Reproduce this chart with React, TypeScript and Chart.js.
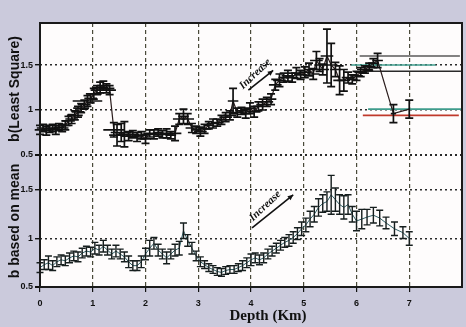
import React, { useEffect, useRef } from 'react';
import { Chart, registerables } from 'chart.js';

Chart.register(...registerables);

// ---- tick values ----
const xTickValues = [0, 1, 2, 3, 4, 5, 6, 7];
const yTickValues = [0.5, 1, 1.5];

// ---- top panel: b (Least Square) ----
const lsDepth = [0.00,0.06,0.12,0.18,0.24,0.30,0.36,0.42,0.48,0.54,0.60,0.66,0.72,0.78,0.84,0.90,0.96,1.02,1.08,1.14,1.20,1.26,1.32,1.40,1.46,1.54,1.60,1.68,1.76,1.84,1.92,2.00,2.08,2.16,2.24,2.32,2.40,2.48,2.56,2.64,2.72,2.80,2.88,2.96,3.04,3.12,3.20,3.28,3.36,3.44,3.52,3.60,3.66,3.74,3.82,3.90,3.98,4.06,4.14,4.22,4.30,4.38,4.46,4.54,4.62,4.70,4.78,4.86,4.94,5.02,5.10,5.18,5.24,5.30,5.36,5.44,5.52,5.60,5.68,5.76,5.84,5.92,6.00,6.08,6.16,6.24,6.32,6.40,6.70,7.00];
const lsB = [0.78,0.80,0.77,0.79,0.80,0.78,0.81,0.80,0.83,0.88,0.90,0.94,0.98,1.02,1.06,1.10,1.13,1.18,1.22,1.25,1.27,1.24,1.22,0.78,0.72,0.75,0.73,0.71,0.73,0.70,0.72,0.68,0.74,0.73,0.75,0.73,0.74,0.72,0.74,0.90,0.93,0.90,0.80,0.78,0.76,0.79,0.83,0.85,0.86,0.89,0.92,0.94,1.10,0.97,0.99,0.96,1.02,0.98,1.04,1.06,1.09,1.12,1.28,1.33,1.36,1.38,1.36,1.41,1.39,1.42,1.45,1.40,1.55,1.50,1.45,1.60,1.50,1.45,1.33,1.33,1.36,1.34,1.38,1.42,1.45,1.48,1.52,1.55,0.96,1.01];
const lsErrB = [0.05,0.04,0.05,0.04,0.04,0.05,0.04,0.04,0.05,0.05,0.05,0.05,0.06,0.05,0.05,0.06,0.05,0.06,0.05,0.06,0.05,0.05,0.05,0.08,0.12,0.10,0.14,0.05,0.04,0.05,0.04,0.05,0.04,0.05,0.04,0.04,0.05,0.04,0.08,0.06,0.08,0.06,0.05,0.04,0.05,0.05,0.04,0.05,0.04,0.05,0.05,0.05,0.14,0.05,0.04,0.05,0.06,0.06,0.05,0.06,0.05,0.06,0.06,0.07,0.05,0.06,0.05,0.06,0.05,0.06,0.07,0.06,0.10,0.07,0.06,0.30,0.24,0.08,0.16,0.12,0.06,0.05,0.05,0.05,0.04,0.04,0.05,0.08,0.10,0.10];
const lsErrDepth = [0.10,0.12,0.10,0.12,0.10,0.12,0.10,0.12,0.10,0.12,0.12,0.15,0.12,0.15,0.12,0.28,0.12,0.15,0.12,0.15,0.12,0.15,0.12,0.20,0.15,0.20,0.12,0.15,0.12,0.12,0.12,0.10,0.12,0.12,0.10,0.12,0.12,0.10,0.12,0.12,0.10,0.12,0.12,0.10,0.12,0.12,0.10,0.12,0.12,0.10,0.12,0.12,0.10,0.12,0.12,0.10,0.12,0.12,0.10,0.12,0.12,0.10,0.12,0.12,0.10,0.12,0.12,0.10,0.12,0.12,0.10,0.12,0.12,0.10,0.12,0.12,0.12,0.10,0.12,0.12,0.12,0.10,0.12,0.12,0.15,0.12,0.10,0.10,0.05,0.00];

// long horizontal intervals (top-right of upper panel)
const intervalB = [1.60, 1.50, 1.43, 1.01, 0.94];
const intervalFrom = [6.06, 5.90, 6.10, 6.22, 6.12];
const intervalTo = [7.96, 7.50, 7.98, 8.00, 7.94];

// ---- bottom panel: b based on mean ----
const meanDepth = [0.00,0.08,0.16,0.24,0.32,0.40,0.48,0.56,0.64,0.72,0.80,0.88,0.96,1.04,1.12,1.20,1.28,1.36,1.44,1.52,1.60,1.68,1.76,1.84,1.92,2.00,2.08,2.16,2.24,2.32,2.40,2.48,2.56,2.64,2.72,2.80,2.88,2.96,3.04,3.12,3.20,3.28,3.36,3.44,3.52,3.60,3.68,3.76,3.84,3.92,4.00,4.08,4.16,4.24,4.32,4.40,4.48,4.56,4.64,4.72,4.80,4.88,4.96,5.04,5.12,5.20,5.28,5.36,5.44,5.52,5.60,5.68,5.76,5.84,5.92,6.00,6.10,6.20,6.32,6.44,6.56,6.72,6.88,7.00];
const meanB = [0.70,0.73,0.75,0.72,0.76,0.78,0.77,0.80,0.82,0.81,0.85,0.87,0.86,0.90,0.88,0.92,0.88,0.84,0.87,0.84,0.81,0.76,0.72,0.72,0.76,0.84,0.90,0.95,0.88,0.84,0.80,0.84,0.88,0.90,1.08,0.98,0.90,0.82,0.76,0.73,0.70,0.68,0.66,0.65,0.67,0.68,0.68,0.70,0.72,0.75,0.78,0.80,0.78,0.80,0.84,0.87,0.90,0.93,0.96,0.98,1.01,1.05,1.10,1.14,1.20,1.25,1.32,1.36,1.38,1.45,1.40,1.35,1.32,1.35,1.25,1.18,1.20,1.22,1.24,1.21,1.16,1.10,1.06,1.00];
const meanErrB = [0.05,0.05,0.07,0.05,0.05,0.05,0.05,0.05,0.05,0.05,0.05,0.05,0.05,0.06,0.05,0.06,0.05,0.05,0.06,0.05,0.05,0.06,0.05,0.05,0.06,0.06,0.08,0.06,0.06,0.05,0.06,0.05,0.06,0.07,0.08,0.06,0.06,0.05,0.05,0.04,0.04,0.04,0.04,0.04,0.04,0.04,0.04,0.04,0.05,0.05,0.06,0.05,0.05,0.05,0.05,0.05,0.05,0.05,0.05,0.06,0.06,0.06,0.07,0.07,0.08,0.08,0.09,0.09,0.10,0.20,0.12,0.10,0.12,0.10,0.08,0.10,0.10,0.08,0.08,0.08,0.06,0.07,0.06,0.07];

// ---- annotations ("Increase" arrows), in data units ----
const noteText = ['Increase', 'Increase'];
const noteAxis = ['yLS', 'yMean'];
const noteX = [4.08, 4.27];
const noteY = [1.40, 1.335];
const arrowX0 = [3.95, 4.02];
const arrowY0 = [1.22, 1.11];
const arrowX1 = [4.42, 4.80];
const arrowY1 = [1.44, 1.45];

const intervalColors = ['#5a5a5a', '#3f9c8c', '#2a2a2a', '#3f9c8c', '#c0392b'];

const bgPlugin = {
  id: 'bgPlugin',
  beforeDraw(chart: any) {
    const { ctx, chartArea: a, width, height } = chart;
    ctx.save();
    ctx.fillStyle = '#cbcadc';
    ctx.fillRect(0, 0, width, height);
    ctx.fillStyle = '#fefcfc';
    ctx.fillRect(a.left, a.top, a.right - a.left, a.bottom - a.top);
    ctx.restore();
  },
};

const errorBarPlugin = {
  id: 'errorBars',
  afterDatasetsDraw(chart: any) {
    const { ctx } = chart;
    const xs = chart.scales.x;
    chart.data.datasets.forEach((ds: any) => {
      if (!ds.errY) return;
      const ys = chart.scales[ds.yAxisID];
      ctx.save();
      ctx.strokeStyle = ds.errColor;
      ctx.lineWidth = ds.errWidth;
      const cap = ds.capHalf;
      ds.data.forEach((p: any, j: number) => {
        const px = xs.getPixelForValue(p.x);
        const py = ys.getPixelForValue(p.y);
        const top = ys.getPixelForValue(p.y + ds.errY[j]);
        const bot = ys.getPixelForValue(p.y - ds.errY[j]);
        ctx.beginPath();
        ctx.moveTo(px, top); ctx.lineTo(px, bot);
        ctx.moveTo(px - cap, top); ctx.lineTo(px + cap, top);
        ctx.moveTo(px - cap, bot); ctx.lineTo(px + cap, bot);
        if (ds.errX && ds.errX[j] > 0) {
          ctx.moveTo(xs.getPixelForValue(p.x - ds.errX[j]), py);
          ctx.lineTo(xs.getPixelForValue(p.x + ds.errX[j]), py);
        }
        ctx.stroke();
      });
      ctx.restore();
    });
  },
};

const notesPlugin = {
  id: 'notes',
  afterDatasetsDraw(chart: any) {
    const { ctx } = chart;
    const xs = chart.scales.x;
    noteText.forEach((t, i) => {
      const ys = chart.scales[noteAxis[i]];
      const x0 = xs.getPixelForValue(arrowX0[i]);
      const y0 = ys.getPixelForValue(arrowY0[i]);
      const x1 = xs.getPixelForValue(arrowX1[i]);
      const y1 = ys.getPixelForValue(arrowY1[i]);
      const ang = Math.atan2(y1 - y0, x1 - x0);
      ctx.save();
      ctx.strokeStyle = '#111';
      ctx.fillStyle = '#111';
      ctx.lineWidth = 1.6;
      ctx.beginPath();
      ctx.moveTo(x0, y0);
      ctx.lineTo(x1, y1);
      ctx.stroke();
      const h = 6;
      ctx.beginPath();
      ctx.moveTo(x1, y1);
      ctx.lineTo(x1 - h * Math.cos(ang - 0.45), y1 - h * Math.sin(ang - 0.45));
      ctx.lineTo(x1 - h * Math.cos(ang + 0.45), y1 - h * Math.sin(ang + 0.45));
      ctx.closePath();
      ctx.fill();
      const tx = xs.getPixelForValue(noteX[i]);
      const ty = ys.getPixelForValue(noteY[i]);
      ctx.translate(tx, ty);
      ctx.rotate(ang - 0.08);
      ctx.font = 'italic bold 11px "Liberation Serif"';
      ctx.textAlign = 'center';
      ctx.textBaseline = 'middle';
      ctx.fillText(t, 0, 0);
      ctx.restore();
    });
  },
};

const framePlugin = {
  id: 'frame',
  afterDraw(chart: any) {
    const { ctx, chartArea: a } = chart;
    ctx.save();
    ctx.strokeStyle = '#1a1a1a';
    ctx.lineWidth = 2;
    ctx.strokeRect(a.left, a.top, a.right - a.left, a.bottom - a.top);
    ctx.fillStyle = '#111';
    ctx.font = 'bold 15px "Liberation Serif"';
    ctx.textAlign = 'center';
    ctx.textBaseline = 'middle';
    ctx.fillText('Depth (Km)', (a.left + a.right) / 2 + 17, 316);
    ctx.restore();
  },
};

export default function App() {
  const ref = useRef<HTMLCanvasElement | null>(null);

  useEffect(() => {
    document.body.style.margin = '0';
    const canvas = ref.current;
    if (!canvas) return;

    const lsData = lsDepth.map((d, i) => ({ x: d, y: lsB[i] }));
    const meanData = meanDepth.map((d, i) => ({ x: d, y: meanB[i] }));

    const intervalSets = intervalB.map((b, i) => ({
      data: [{ x: intervalFrom[i], y: b }, { x: intervalTo[i], y: b }],
      yAxisID: 'yLS',
      borderColor: intervalColors[i],
      borderWidth: 1.6,
      pointRadius: 0,
    }));

    const tickFont = { family: 'Liberation Sans', weight: 'bold' as const, size: 9 };
    const titleFont = { family: 'Liberation Sans', weight: 'bold' as const, size: 14 };

    const yCommon = (min: number, max: number, title: string) => ({
      type: 'linear' as const,
      position: 'left' as const,
      stack: 'panels',
      min,
      max,
      afterBuildTicks: (axis: any) => {
        axis.ticks = yTickValues.map((v) => ({ value: v }));
      },
      afterFit: (axis: any) => {
        axis.width = 40;
      },
      ticks: {
        font: tickFont,
        color: '#111',
        padding: 2,
        callback: (v: any) => String(v),
      },
      grid: {
        color: '#2a2a2a',
        lineWidth: (c: any) => (c.tick && c.tick.value === 0.5 ? 2 : 1.4),
        tickLength: 5,
        tickColor: '#111',
      },
      border: { display: false, dash: [2, 3] },
      title: {
        display: true,
        text: title,
        font: titleFont,
        color: '#111',
        padding: { top: 7, bottom: 0 },
      },
    });

    const chart = new Chart(canvas, {
      type: 'line',
      data: {
        datasets: [
          {
            data: lsData,
            yAxisID: 'yLS',
            borderColor: '#2a1c1c',
            borderWidth: 1.2,
            pointRadius: 0,
            tension: 0,
            errY: lsErrB,
            errX: lsErrDepth,
            errColor: '#111111',
            errWidth: 1.7,
            capHalf: 4,
          } as any,
          ...intervalSets,
          {
            data: meanData,
            yAxisID: 'yMean',
            borderColor: '#2f5f66',
            borderWidth: 1,
            pointRadius: 0,
            tension: 0,
            errY: meanErrB,
            errColor: '#161e1e',
            errWidth: 1.4,
            capHalf: 3.5,
          } as any,
        ],
      },
      options: {
        responsive: false,
        animation: false,
        events: [],
        layout: { padding: { top: 23, right: 4, left: 0, bottom: 0 } },
        plugins: {
          legend: { display: false },
          tooltip: { enabled: false },
        },
        scales: {
          x: {
            type: 'linear',
            min: 0,
            max: 8,
            afterBuildTicks: (axis: any) => {
              axis.ticks = xTickValues.map((v) => ({ value: v }));
            },
            afterFit: (axis: any) => {
              axis.height = 40;
            },
            ticks: { font: tickFont, color: '#111', padding: 6, maxRotation: 0 },
            grid: { color: '#4a4a3a', lineWidth: 1.2, tickLength: 5, tickColor: '#111' },
            border: { display: false, dash: [4, 3] },
          },
          yMean: yCommon(0.5, 1.86, 'b based on mean'),
          yLS: yCommon(0.5, 1.967, 'b(Least Square)'),
        } as any,
      },
      plugins: [bgPlugin, errorBarPlugin, notesPlugin, framePlugin],
    });

    return () => chart.destroy();
  }, []);

  return (
    <div style={{ width: 466, height: 327 }}>
      <canvas ref={ref} width={466} height={327} style={{ display: 'block' }} />
    </div>
  );
}
